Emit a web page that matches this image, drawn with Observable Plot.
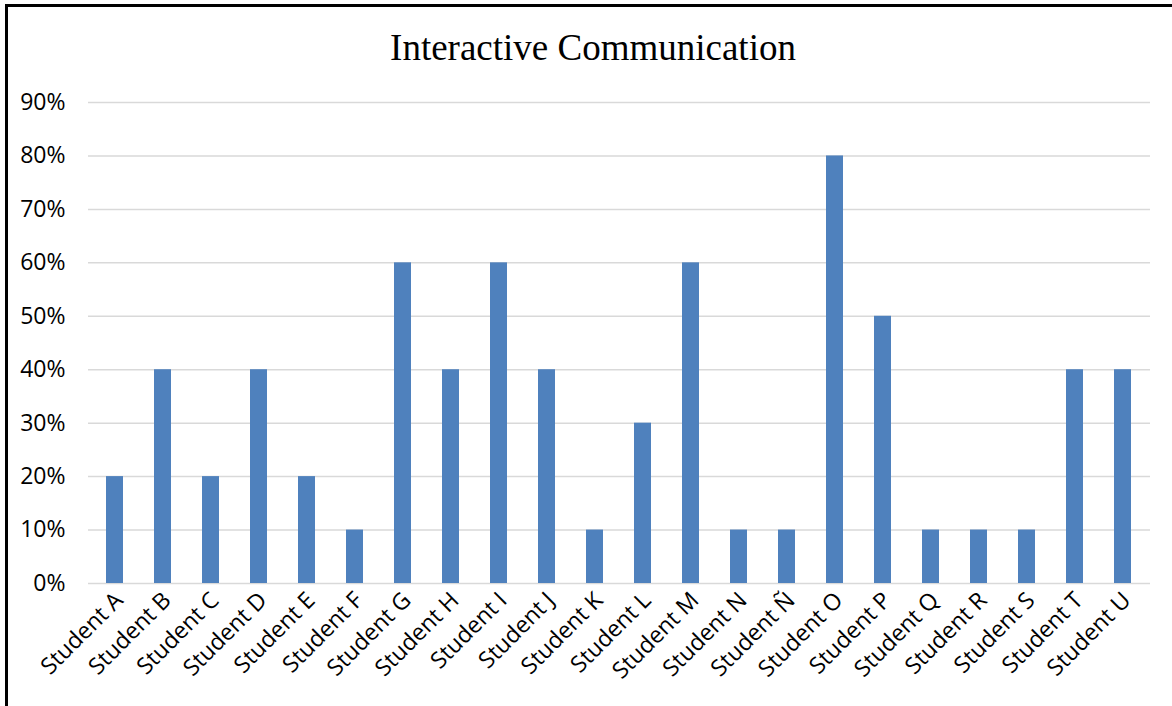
<!DOCTYPE html>
<html>
<head>
<meta charset="utf-8">
<script src="https://cdn.jsdelivr.net/npm/d3@7"></script>
<script src="https://cdn.jsdelivr.net/npm/@observablehq/plot@0.6"></script>
<style>
  html, body { margin: 0; padding: 0; background: #fff; overflow: hidden; width: 1172px; height: 706px; }
  #frame { position: absolute; left: 5px; top: 4px; width: 1300px; height: 900px; border-left: 3px solid #000; border-top: 3px solid #000; box-sizing: border-box; }
  #title { position: absolute; left: 0; top: 28px; width: 1186px; text-align: center; font-family: "Liberation Serif", "Times New Roman", serif; font-size: 37px; line-height: 40px; color: #000; }
  #chart { position: absolute; left: 0; top: 0; }
</style>
</head>
<body>
<div id="frame"></div>
<div id="title">Interactive Communication</div>
<div id="chart"></div>
<script>
const students = ["Student A","Student B","Student C","Student D","Student E","Student F","Student G","Student H","Student I","Student J","Student K","Student L","Student M","Student N","Student Ñ","Student O","Student P","Student Q","Student R","Student S","Student T","Student U"];
const values = [0.20,0.40,0.20,0.40,0.20,0.10,0.60,0.40,0.60,0.40,0.10,0.30,0.60,0.10,0.10,0.80,0.50,0.10,0.10,0.10,0.40,0.40];
const yTicks = [0,0.1,0.2,0.3,0.4,0.5,0.6,0.7,0.8,0.9];

const data = students.map((s, i) => ({student: s, value: values[i]}));

const chart = Plot.plot({
  width: 1172,
  height: 706,
  marginLeft: 88,
  marginRight: 22,
  marginTop: 102,
  marginBottom: 123,
  style: {fontFamily: "'Open Sans', sans-serif", fontSize: "23px", color: "#000", background: "transparent"},
  x: {domain: students, paddingInner: 0.64, paddingOuter: 0.32, label: null},
  y: {domain: [0, 0.9], label: null},
  marks: [
    Plot.gridY(yTicks, {stroke: "#d9d9d9", strokeOpacity: 1, strokeWidth: 1.5}),
    Plot.barY(data, {x: "student", y: "value", fill: "#4f81bd"}),
    Plot.axisY(yTicks, {tickFormat: d3.format(".0%"), tickSize: 0, tickPadding: 23, label: null, fontSize: 23}),
    Plot.axisX({tickRotate: -45, tickSize: 0, tickPadding: 13, label: null, dx: 4, fontSize: 23})
  ]
});
document.getElementById("chart").appendChild(chart);
</script>
</body>
</html>
